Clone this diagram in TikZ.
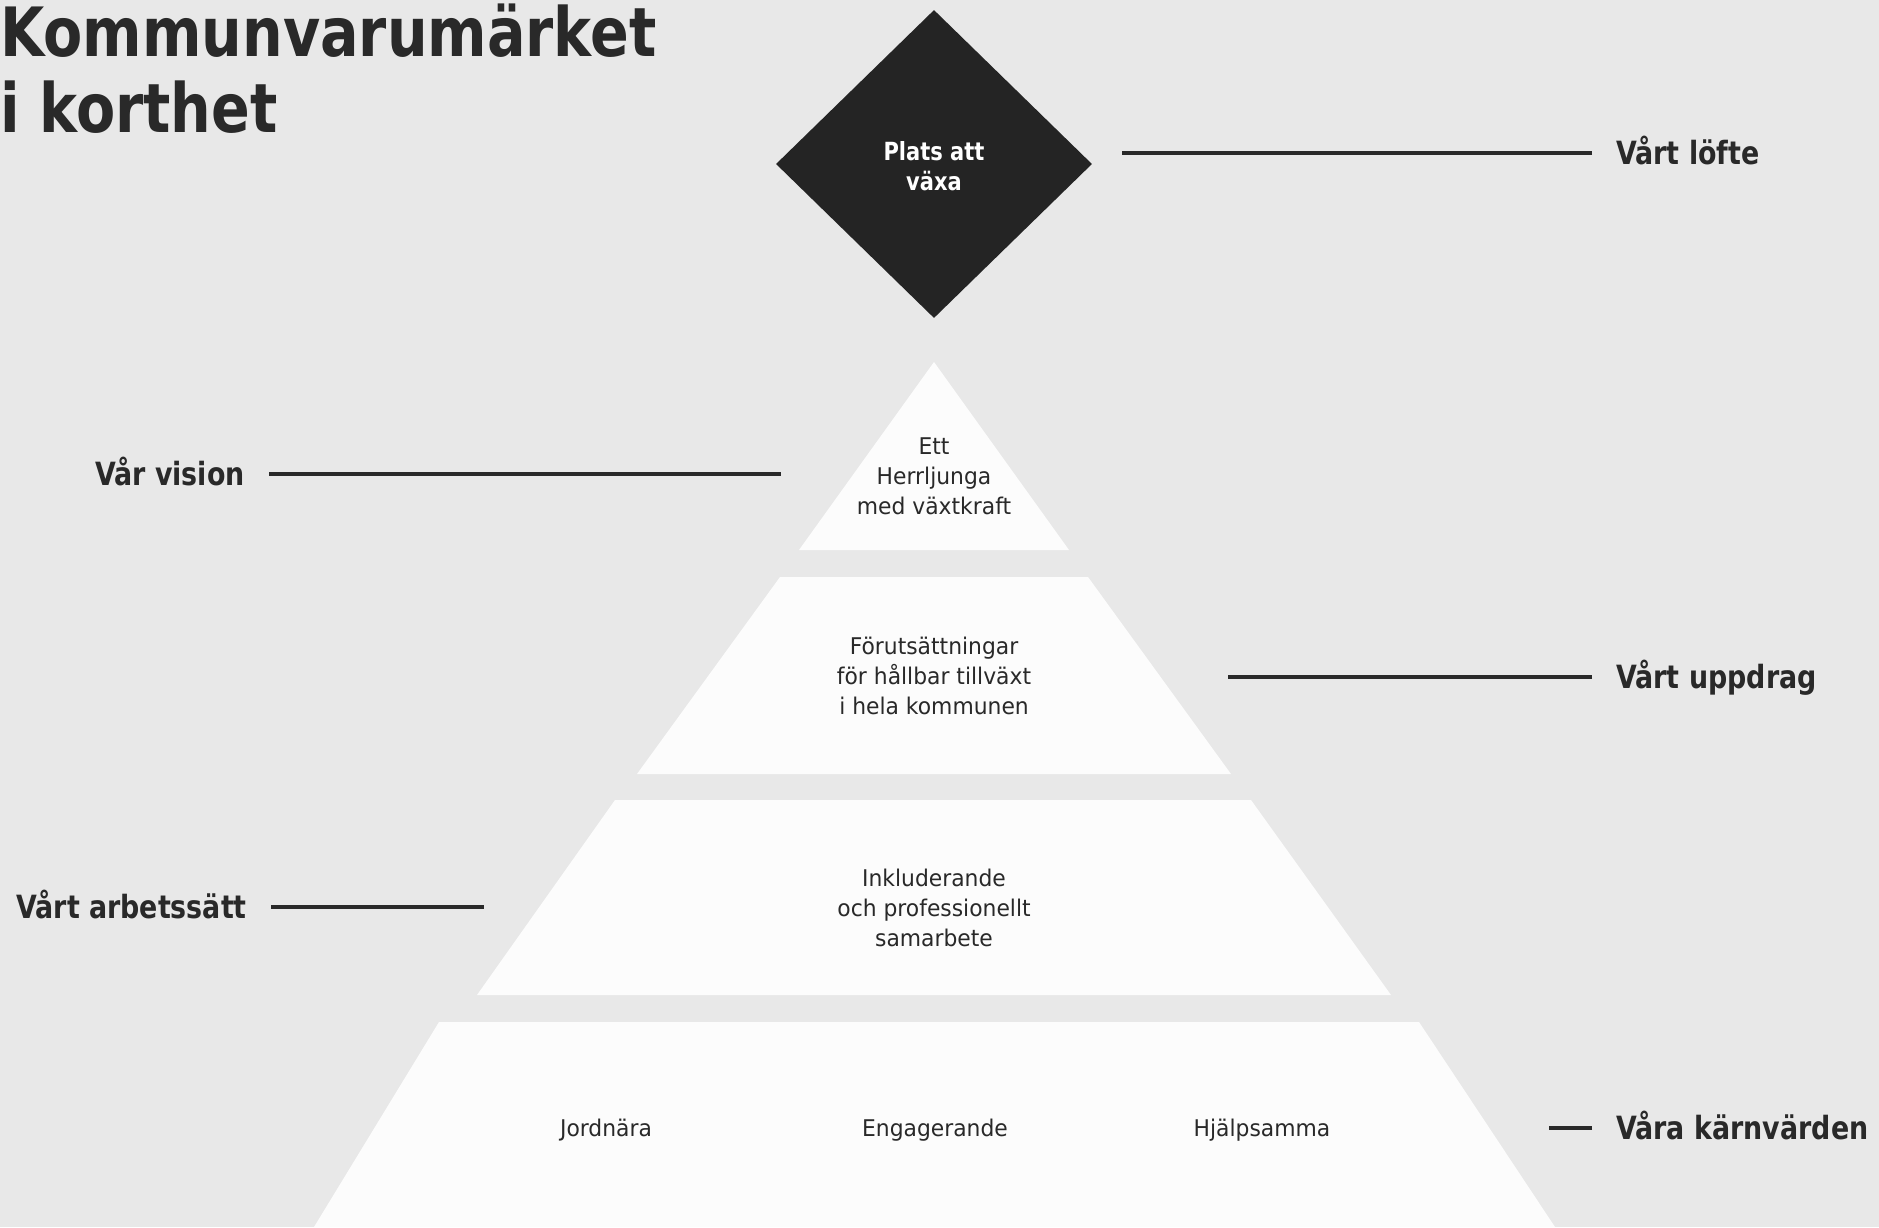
\documentclass[tikz,border=0pt]{standalone}
\usepackage{fontspec}
\setmainfont{DejaVu Sans}[FakeStretch=0.95]
\newfontfamily\headfont{DejaVu Sans}[FakeStretch=0.84]
\usetikzlibrary{positioning, shapes.geometric}
\definecolor{paper}{gray}{0.91}
\definecolor{tierwhite}{gray}{0.99}
\definecolor{ink}{gray}{0.16}
\definecolor{diamondink}{gray}{0.14}
\tikzset{
  tier/.style={fill=tierwhite},
  heading/.style={font=\headfont\bfseries\fontsize{32}{38}\selectfont, text=ink, inner sep=0pt, text height=23pt, text depth=0pt},
  tiertext/.style={font=\fontsize{23}{30}\selectfont, text=ink, align=center},
  leader/.style={draw=ink, line width=3.5pt, shorten <=24pt},
}

\begin{document}
\begin{tikzpicture}[x=1pt, y=-1pt]
  \fill[paper] (0,0) rectangle (1879,1227);
  \useasboundingbox (0,0) rectangle (1879,1227);

  \node[anchor=north west, inner sep=0pt, align=left, text=ink, font=\headfont\bfseries\fontsize{68}{76}\selectfont] (title) at (0,4) {Kommunvarumärket\\i korthet};

  \node[diamond, fill=diamondink, minimum width=316pt, minimum height=308pt, inner sep=0pt] (promise) at (934,164) {};
  \node[align=center, text=white, font=\headfont\bfseries\fontsize{25}{30}\selectfont] (promisetext) at (934,166) {Plats att\\växa};

  \fill[tier] (934,362) -- (1069,550) -- (799,550) -- cycle;
  \fill[tier] (780,577) -- (1088,577) -- (1231,774) -- (637,774) -- cycle;
  \fill[tier] (615,800) -- (1251,800) -- (1391,995) -- (477,995) -- cycle;
  \fill[tier] (439,1022) -- (1419,1022) -- (1555,1227) -- (314,1227) -- cycle;

  \node[tiertext] (visiontext) at (934,476) {Ett\\Herrljunga\\med växtkraft};
  \node[tiertext] (missiontext) at (934,676) {Förutsättningar\\för hållbar tillväxt\\i hela kommunen};
  \node[tiertext] (worktext) at (934,908) {Inkluderande\\och professionellt\\samarbete};
  \node[tiertext] (value1) at (606,1130) {Jordnära};
  \node[tiertext] (value2) at (935,1130) {Engagerande};
  \node[tiertext] (value3) at (1262,1130) {Hjälpsamma};

  \node[heading, anchor=west] (lofte) at (1616,153) {Vårt löfte};
  \node[heading, anchor=east] (vision) at (245,474) {Vår vision};
  \node[heading, anchor=west] (uppdrag) at (1616,677) {Vårt uppdrag};
  \node[heading, anchor=east] (arbetssatt) at (247,907) {Vårt arbetssätt};
  \node[heading, anchor=west] (karnvarden) at (1616,1128) {Våra kärnvärden};

  \coordinate (lofteend) at (1122,153);
  \coordinate (visionend) at (781,474);
  \coordinate (uppdragend) at (1228,677);
  \coordinate (arbetssattend) at (484,907);
  \coordinate (karnvardenend) at (1549,1128);

  \draw[leader] (lofte) -- (lofteend);
  \draw[leader] (vision) -- (visionend);
  \draw[leader] (uppdrag) -- (uppdragend);
  \draw[leader] (arbetssatt) -- (arbetssattend);
  \draw[leader] (karnvarden) -- (karnvardenend);
\end{tikzpicture}
\end{document}
